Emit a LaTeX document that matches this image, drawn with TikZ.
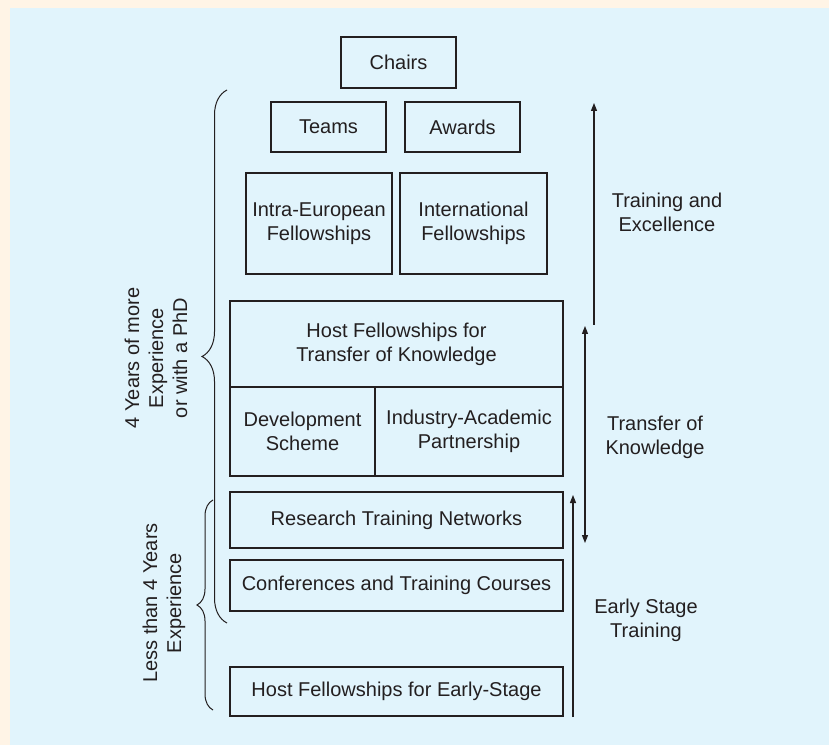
\documentclass[tikz,border=0pt]{standalone}
\usepackage{fontspec}
\setmainfont{Liberation Sans}
\usetikzlibrary{arrows.meta,decorations.pathreplacing}
\definecolor{fondbleu}{RGB}{225,244,252}
\definecolor{fondbeige}{RGB}{255,244,230}
\definecolor{encre}{RGB}{35,31,32}
\tikzset{
  bloc/.style={draw=encre, line width=1pt, text=encre, align=center, inner sep=0pt},
  fleche/.style={draw=encre, line width=.9pt, -{Triangle[length=6pt,width=4.5pt]}},
  accolade/.style={draw=encre, line width=.75pt, decorate},
  texte/.style={text=encre, align=center}
}
\begin{document}
\begin{tikzpicture}[x=.75pt, y=-.75pt, font=\fontsize{15}{18}\selectfont]
      \fill[fondbeige] (0, 0) rectangle (829, 745) ;
      \fill[fondbleu] (10, 8) rectangle (829, 745) ;
      \useasboundingbox (0, 0) rectangle (829, 745) ;
    %--- Blocs du haut
      \node[bloc, minimum width=86.25pt, minimum height=38.25pt] (chairs) at (398.5, 62.5) {Chairs} ;
      \node[bloc, minimum width=86.25pt, minimum height=37.5pt] (teams) at (328.5, 127) {Teams} ;
      \node[bloc, minimum width=86.25pt, minimum height=37.5pt] (awards) at (462.5, 127) {Awards} ;
      \node[bloc, minimum width=109.5pt, minimum height=75.75pt] (intra) at (319, 223.5) {Intra-European\\Fellowships} ;
      \node[bloc, minimum width=110.25pt, minimum height=75.75pt] (inter) at (473.5, 223.5) {International\\Fellowships} ;
    %--- Transfert de connaissances
      \node[bloc, minimum width=249.75pt, minimum height=64.5pt] (hostTok) at (396.5, 344) {Host Fellowships for\\Transfer of Knowledge} ;
      \node[bloc, minimum width=108.75pt, minimum height=66.75pt] (devel) at (302.5, 431.5) {Development\\Scheme} ;
      \node[bloc, minimum width=141pt, minimum height=66.75pt] (indus) at (469, 431.5) {Industry-Academic\\Partnership} ;
    %--- Debut de carriere
      \node[bloc, minimum width=249.75pt, minimum height=42pt] (rtn) at (396.5, 520) {Research Training Networks} ;
      \node[bloc, minimum width=249.75pt, minimum height=38.25pt] (conf) at (396.5, 585.5) {Conferences and Training Courses} ;
      \node[bloc, minimum width=249.75pt, minimum height=36.75pt] (hostEarly) at (396.5, 691.5) {Host Fellowships for Early-Stage} ;
    %--- Fleches
      \coordinate (excelBas) at (594, 325) ;
      \coordinate (excelHaut) at (594, 103) ;
      \coordinate (tokBas) at (585, 543) ;
      \coordinate (tokHaut) at (585, 326) ;
      \coordinate (earlyBas) at (573, 717) ;
      \coordinate (earlyHaut) at (573, 495) ;
      \draw[fleche] (excelBas) -- (excelHaut) ;
      \draw[fleche, {Triangle[length=6pt,width=4.5pt]}-{Triangle[length=6pt,width=4.5pt]}] (tokBas) -- (tokHaut) ;
      \draw[fleche] (earlyBas) -- (earlyHaut) ;
      \node[texte] (lblExcel) at (667, 212) {Training and\\Excellence} ;
      \node[texte] (lblTok) at (655, 437) {Transfer of\\Knowledge} ;
      \node[texte] (lblEarly) at (646, 620) {Early Stage\\Training} ;
    %--- Accolades
      \coordinate (grandeBas) at (227, 623) ;
      \coordinate (grandeHaut) at (227, 90) ;
      \coordinate (petiteBas) at (213, 710) ;
      \coordinate (petiteHaut) at (213, 500) ;
      \draw[accolade, decoration={brace, amplitude=18.75pt}] (grandeBas) -- (grandeHaut) ;
      \draw[accolade, decoration={brace, amplitude=12pt}] (petiteBas) -- (petiteHaut) ;
      \node[texte, rotate=90] (lblPhd) at (156, 358) {4 Years of more\\Experience\\or with a PhD} ;
      \node[texte, rotate=90] (lblJunior) at (164, 603) {Less than 4 Years\\Experience} ;
  \end{tikzpicture}
\end{document}
